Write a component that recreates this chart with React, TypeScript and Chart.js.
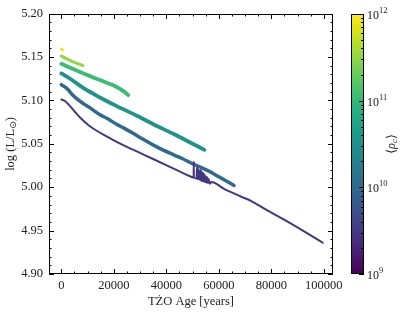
import React, { useEffect, useRef } from "react";
import { Chart, registerables } from "chart.js";

Chart.register(...registerables);

// ---- data ----
const purpleAge = [0, 1500, 2800, 4000, 5400, 7500, 10500, 13500, 16900, 20000, 23200, 29600, 36000, 43000, 49400, 50400, 50450, 50500, 51500, 51700, 51900, 52200, 52400, 52700, 52900, 53200, 53400, 53700, 53900, 54200, 54400, 54700, 54900, 55200, 55400, 55700, 55900, 56200, 56500, 57200, 62000, 68600, 72400, 78000, 85200, 92000, 99600];
const purpleLum = [5.101, 5.099, 5.095, 5.091, 5.086, 5.079, 5.071, 5.065, 5.059, 5.054, 5.049, 5.040, 5.031, 5.021, 5.012, 5.011, 5.029, 5.011, 5.010, 5.023, 5.009, 5.021, 5.009, 5.019, 5.008, 5.020, 5.007, 5.017, 5.007, 5.016, 5.006, 5.014, 5.006, 5.012, 5.005, 5.011, 5.005, 5.009, 5.004, 5.006, 4.998, 4.989, 4.984, 4.974, 4.962, 4.950, 4.936];

const blueAge = [0, 2000, 4700, 8500, 11100, 14900, 17500, 21300, 23900, 29000, 36000, 43000, 46000, 50000, 55800, 60000, 65800];
const blueLum = [5.118, 5.114, 5.105, 5.096, 5.091, 5.083, 5.079, 5.072, 5.068, 5.059, 5.047, 5.037, 5.033, 5.027, 5.019, 5.012, 5.002];

const tealAge = [0, 3800, 8500, 14900, 21300, 29000, 36000, 43000, 50000, 54500];
const tealLum = [5.131, 5.124, 5.114, 5.103, 5.093, 5.082, 5.071, 5.061, 5.050, 5.043];

const greenAge = [0, 3800, 8500, 14900, 20000, 23900, 25500];
const greenLum = [5.142, 5.137, 5.131, 5.123, 5.117, 5.110, 5.106];

const limeAge = [0, 4000, 8200];
const limeLum = [5.151, 5.145, 5.140];

const yellowAge = [0, 500];
const yellowLum = [5.159, 5.158];

// log10 of mean central density for each track (colour-bar value)
const seriesLogRho = [9.48, 10.0, 10.5, 11.04, 11.5, 11.95];
const seriesWidth = [2, 3.5, 3.8, 3.8, 3, 3];

const xTickValues = [0, 20000, 40000, 60000, 80000, 100000];
const yTickValues = [4.9, 4.95, 5.0, 5.05, 5.1, 5.15, 5.2];
const cbExponents = [9, 10, 11, 12];

const X_MIN = -4700;
const X_MAX = 103500;
const Y_MIN = 4.9;
const Y_MAX = 5.2;

const VIRIDIS: number[][] = [
  [68, 1, 84], [71, 18, 101], [72, 35, 116], [69, 52, 127], [64, 67, 135],
  [58, 82, 139], [52, 96, 141], [46, 109, 142], [41, 121, 142], [37, 133, 142],
  [33, 145, 140], [30, 156, 137], [34, 168, 132], [47, 180, 124], [68, 191, 112],
  [94, 201, 98], [122, 209, 81], [155, 217, 60], [189, 223, 38], [223, 227, 24],
  [253, 231, 37],
];

function viridis(t: number): string {
  const c = Math.max(0, Math.min(1, t)) * (VIRIDIS.length - 1);
  const i = Math.min(VIRIDIS.length - 2, Math.floor(c));
  const f = c - i;
  const a = VIRIDIS[i], b = VIRIDIS[i + 1];
  const r = Math.round(a[0] + (b[0] - a[0]) * f);
  const g = Math.round(a[1] + (b[1] - a[1]) * f);
  const bl = Math.round(a[2] + (b[2] - a[2]) * f);
  return `rgb(${r},${g},${bl})`;
}

const FONT_FAMILY = "'Liberation Serif', 'DejaVu Serif', serif";
const TEXT = "#222";

const framePlugin = {
  id: "frame",
  afterDraw(chart: any) {
    const { ctx, chartArea, scales } = chart;
    const left = Math.round(chartArea.left);
    const right = Math.round(chartArea.right);
    const top = Math.round(chartArea.top);
    const bottom = Math.round(chartArea.bottom);
    const xs = scales.x;
    const ys = scales.y;
    ctx.save();
    ctx.strokeStyle = "#000";
    ctx.lineWidth = 1;
    ctx.strokeRect(left + 0.5, top + 0.5, right - left - 1, bottom - top - 1);

    const line = (x1: number, y1: number, x2: number, y2: number) => {
      ctx.beginPath();
      ctx.moveTo(x1, y1);
      ctx.lineTo(x2, y2);
      ctx.stroke();
    };
    // x ticks (inward, bottom and top)
    for (let v = -5000; v <= X_MAX; v += 5000) {
      if (v < X_MIN) continue;
      const major = xTickValues.includes(v);
      const len = major ? 5 : 2.5;
      const px = Math.round(xs.getPixelForValue(v)) + 0.5;
      line(px, bottom, px, bottom - len);
      line(px, top, px, top + len);
    }
    // y ticks (inward, left and right)
    for (let k = 0; k <= 30; k++) {
      const v = Y_MIN + k * 0.01;
      const major = k % 5 === 0;
      const len = major ? 5 : 2.5;
      const py = Math.round(ys.getPixelForValue(v)) + 0.5;
      line(left, py, left + len, py);
      line(right, py, right - len, py);
    }

    // y title with subscript
    ctx.fillStyle = TEXT;
    ctx.save();
    ctx.translate(11, (top + bottom) / 2);
    ctx.rotate(-Math.PI / 2);
    ctx.textBaseline = "middle";
    const mainFont = `12.5px ${FONT_FAMILY}`;
    const subFont = `9px 'DejaVu Sans', ${FONT_FAMILY}`;
    const p1 = "log (L/L";
    const p2 = "\u2299";
    const p3 = ")";
    ctx.font = mainFont;
    const w1 = ctx.measureText(p1).width;
    const w3 = ctx.measureText(p3).width;
    ctx.font = subFont;
    const w2 = ctx.measureText(p2).width;
    const total = w1 + w2 + w3;
    let cx = -total / 2;
    ctx.font = mainFont;
    ctx.textAlign = "left";
    ctx.fillText(p1, cx, 0);
    cx += w1;
    ctx.font = subFont;
    ctx.fillText(p2, cx, 3);
    cx += w2;
    ctx.font = mainFont;
    ctx.fillText(p3, cx, 0);
    ctx.restore();

    // colour bar
    const cbL = right + 18;
    const cbR = right + 31;
    const grad = ctx.createLinearGradient(0, bottom, 0, top);
    for (let i = 0; i <= 40; i++) grad.addColorStop(i / 40, viridis(i / 40));
    ctx.fillStyle = grad;
    ctx.fillRect(cbL, top, cbR - cbL, bottom - top);
    ctx.strokeStyle = "#000";
    ctx.lineWidth = 1;
    ctx.strokeRect(cbL + 0.5, top + 0.5, cbR - cbL - 1, bottom - top - 1);
    const eMin = cbExponents[0];
    const eMax = cbExponents[cbExponents.length - 1];
    const cbY = (lg: number) => bottom - ((lg - eMin) / (eMax - eMin)) * (bottom - top);
    for (let e = eMin; e < eMax; e++) {
      for (let m = 2; m <= 9; m++) {
        const py = Math.round(cbY(e + Math.log10(m))) + 0.5;
        line(cbR, py, cbR - 3, py);
      }
    }
    for (const e of cbExponents) {
      const py = Math.round(cbY(e)) + 0.5;
      line(cbR, py, cbR - 5, py);
      ctx.fillStyle = TEXT;
      ctx.textAlign = "left";
      ctx.textBaseline = "middle";
      ctx.font = `12px ${FONT_FAMILY}`;
      ctx.fillText("10", cbR + 3, py + 1);
      const w = ctx.measureText("10").width;
      ctx.font = `8.5px ${FONT_FAMILY}`;
      ctx.fillText(String(e), cbR + 3 + w, py - 4);
    }
    // colour bar label <rho_c>
    ctx.save();
    ctx.translate(cbR + 28, (top + bottom) / 2);
    ctx.rotate(-Math.PI / 2);
    ctx.textBaseline = "middle";
    ctx.fillStyle = TEXT;
    const a1 = "\u27E8";
    const a2 = "\u03C1";
    const a3 = "c";
    const a4 = "\u27E9";
    const brFont = `12.5px 'DejaVu Sans', ${FONT_FAMILY}`;
    const rhoFont = `italic 12.5px ${FONT_FAMILY}`;
    const cFont = `italic 9px ${FONT_FAMILY}`;
    ctx.font = brFont;
    const b1 = ctx.measureText(a1).width;
    const b4 = ctx.measureText(a4).width;
    ctx.font = rhoFont;
    const b2 = ctx.measureText(a2).width;
    ctx.font = cFont;
    const b3 = ctx.measureText(a3).width;
    let lx = -(b1 + b2 + b3 + b4) / 2;
    ctx.textAlign = "left";
    ctx.font = brFont;
    ctx.fillText(a1, lx, 0);
    lx += b1;
    ctx.font = rhoFont;
    ctx.fillText(a2, lx, 0);
    lx += b2;
    ctx.font = cFont;
    ctx.fillText(a3, lx, 3);
    lx += b3;
    ctx.font = brFont;
    ctx.fillText(a4, lx, 0);
    ctx.restore();

    ctx.restore();
  },
};

const tracks = [
  { age: purpleAge, lum: purpleLum },
  { age: blueAge, lum: blueLum },
  { age: tealAge, lum: tealLum },
  { age: greenAge, lum: greenLum },
  { age: limeAge, lum: limeLum },
  { age: yellowAge, lum: yellowLum },
];

export default function App() {
  const canvasRef = useRef<HTMLCanvasElement | null>(null);

  useEffect(() => {
    if (!canvasRef.current) return;
    const eMin = cbExponents[0];
    const eMax = cbExponents[cbExponents.length - 1];
    const datasets = tracks.map((t, i) => {
      const color = viridis((seriesLogRho[i] - eMin) / (eMax - eMin));
      return {
        label: `track ${i}`,
        data: t.age.map((a, j) => ({ x: a, y: t.lum[j] })),
        borderColor: color,
        backgroundColor: color,
        borderWidth: seriesWidth[i],
        pointRadius: 0,
        fill: false,
        cubicInterpolationMode: "monotone" as const,
        borderCapStyle: "round" as const,
        borderJoinStyle: "round" as const,
        order: i,
      };
    });

    const chart = new Chart(canvasRef.current, {
      type: "line",
      data: { datasets },
      options: {
        animation: false,
        responsive: false,
        maintainAspectRatio: false,
        layout: { padding: { top: 9, right: 74, left: 0, bottom: 0 } },
        plugins: { legend: { display: false }, tooltip: { enabled: false } },
        scales: {
          x: {
            type: "linear",
            min: X_MIN,
            max: X_MAX,
            afterBuildTicks: (s: any) => {
              s.ticks = xTickValues.map((v) => ({ value: v }));
            },
            afterFit: (s: any) => {
              s.height = 40;
            },
            grid: { display: false, drawTicks: false },
            border: { display: false },
            ticks: {
              padding: 4,
              color: TEXT,
              maxRotation: 0,
              autoSkip: false,
              font: { family: FONT_FAMILY, size: 12.5 },
              callback: (v: any) => String(v),
            },
            title: {
              display: true,
              text: "TŻO Age [years]",
              color: TEXT,
              font: { family: FONT_FAMILY, size: 12.5 },
              padding: { top: 0, bottom: 5 },
            },
          },
          y: {
            type: "linear",
            min: Y_MIN,
            max: Y_MAX,
            afterBuildTicks: (s: any) => {
              s.ticks = yTickValues.map((v) => ({ value: v }));
            },
            afterFit: (s: any) => {
              s.width = 49;
            },
            grid: { display: false, drawTicks: false },
            border: { display: false },
            ticks: {
              padding: 6,
              color: TEXT,
              autoSkip: false,
              font: { family: FONT_FAMILY, size: 12.5 },
              callback: (v: any) => Number(v).toFixed(2),
            },
          },
        },
      },
      plugins: [framePlugin],
    } as any);

    return () => chart.destroy();
  }, []);

  return (
    <div style={{ position: "absolute", left: 0, top: 0, width: 407, height: 314, background: "#fff" }}>
      <canvas ref={canvasRef} width={407} height={314} />
    </div>
  );
}
